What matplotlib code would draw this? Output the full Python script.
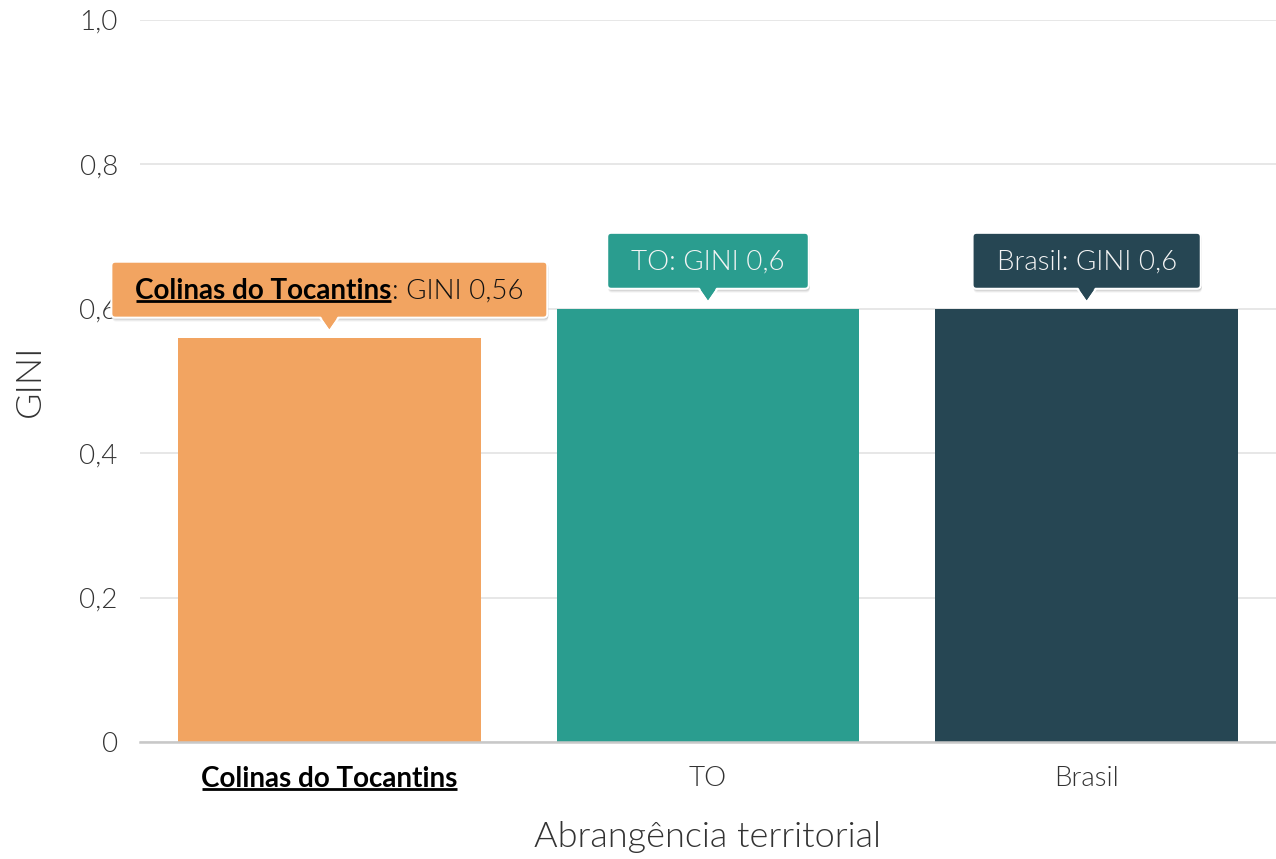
import numpy as np
import matplotlib
matplotlib.use("Agg")
import matplotlib.pyplot as plt
from matplotlib.patches import FancyBboxPatch, Polygon
from matplotlib.lines import Line2D
from matplotlib.transforms import IdentityTransform

plt.rcParams['font.family'] = ['Lato', 'DejaVu Sans']

categories = ["Colinas do Tocantins", "TO", "Brasil"]
gini = [0.56, 0.6, 0.6]
colors = ["#F2A461", "#2A9D8F", "#264653"]
yticks = [0, 0.2, 0.4, 0.6, 0.8, 1.0]
ytick_labels = ["0", "0,2", "0,4", "0,6", "0,8", "1,0"]
highlight = 0

LIGHT = 300
W, H = 1276, 859
fig = plt.figure(figsize=(W / 100, H / 100), dpi=100)
ax = fig.add_axes([140 / W, (H - 742) / H, 1136 / W, 722 / H])

x = np.arange(len(categories))
ax.bar(x, gini, width=0.8, color=colors, zorder=2)
ax.set_xlim(-0.5, len(categories) - 0.5)
ax.set_ylim(0, 1.0)

ax.set_yticks(yticks)
ax.set_yticklabels(ytick_labels, fontsize=20, fontweight=LIGHT, color='#333333')
ax.tick_params(axis='y', length=0, pad=16)
ax.grid(axis='y', color='#e3e3e3', linewidth=1.2, zorder=0)
ax.set_axisbelow(True)

ax.set_xticks(x)
ax.set_xticklabels(categories, fontsize=20, fontweight=LIGHT, color='#333333')
ax.tick_params(axis='x', length=0, pad=17)
xl = ax.get_xticklabels()
xl[highlight].set_fontweight('bold')
xl[highlight].set_color('black')

for s in ['top', 'right', 'left']:
    ax.spines[s].set_visible(False)
ax.spines['bottom'].set_color('#c8c8c8')
ax.spines['bottom'].set_linewidth(1.8)

ax.set_ylabel("GINI", fontsize=26, fontweight=LIGHT, color='#333333', labelpad=24)
ax.set_xlabel("Abrangência territorial", fontsize=26, fontweight=LIGHT,
              color='#333333', labelpad=21)

fig.canvas.draw()
renderer = fig.canvas.get_renderer()


def underline(txt, lw=2.0):
    # matplotlib pads the text box with the descent of "lp"; the baseline sits above it
    bb = txt.get_window_extent(renderer)
    _, _, d = renderer.get_text_width_height_descent(
        "lp", txt.get_fontproperties(), ismath=False)
    y = bb.y0 + d - 2
    fig.add_artist(Line2D([bb.x0 + 1, bb.x1 - 1], [y, y], color='black', lw=lw,
                          solid_capstyle='butt', transform=IdentityTransform(),
                          zorder=7))


underline(xl[highlight])

# tooltips
box_h = 56
gap_tip = 7
ptr_h = 13
pad = 24
for i, (name, v, c) in enumerate(zip(categories, gini, colors)):
    px, py = ax.transData.transform((x[i], v))
    tip_y = py + gap_tip
    by0 = tip_y + ptr_h
    ty = by0 + box_h / 2 - 1
    val = f"{v:g}".replace('.', ',')
    if i == highlight:
        t1 = fig.text(0, ty, name, fontsize=20, fontweight='bold', color='black',
                      transform=IdentityTransform(), va='center', ha='left', zorder=6)
        t2 = fig.text(0, ty, f": GINI {val}", fontsize=20, fontweight=LIGHT,
                      color='#111111', transform=IdentityTransform(), va='center',
                      ha='left', zorder=6)
        w1 = t1.get_window_extent(renderer).width
        w2 = t2.get_window_extent(renderer).width
        tw = w1 + w2
        x0 = px - tw / 2
        t1.set_x(x0)
        t2.set_x(x0 + w1)
        fig.canvas.draw()
        underline(t1)
    else:
        t = fig.text(px, ty, f"{name}: GINI {val}", fontsize=20, fontweight=LIGHT,
                     color='#f4f4f4', transform=IdentityTransform(), va='center',
                     ha='center', zorder=6)
        tw = t.get_window_extent(renderer).width
    bw = tw + 2 * pad
    bx0 = px - bw / 2
    # shadow
    for k, a in [(4, 0.04), (3, 0.06), (2, 0.08), (1, 0.1)]:
        fig.add_artist(FancyBboxPatch((bx0 + 1, by0 - k), bw, box_h,
                                      boxstyle="round,pad=0,rounding_size=4",
                                      fc='black', ec='none', alpha=a,
                                      transform=IdentityTransform(), zorder=3))
    fig.add_artist(Polygon([[px - 10, by0 + 1], [px + 10, by0 + 1], [px, tip_y]],
                           closed=True, fc=c, ec='white', lw=1.5,
                           transform=IdentityTransform(), zorder=4))
    fig.add_artist(FancyBboxPatch((bx0, by0), bw, box_h,
                                  boxstyle="round,pad=0,rounding_size=4",
                                  fc=c, ec='white', lw=1.5,
                                  transform=IdentityTransform(), zorder=4))
    fig.add_artist(Polygon([[px - 9, by0 + 2], [px + 9, by0 + 2], [px, tip_y + 1.5]],
                           closed=True, fc=c, ec='none',
                           transform=IdentityTransform(), zorder=5))

fig.savefig("out.png", dpi=100)
